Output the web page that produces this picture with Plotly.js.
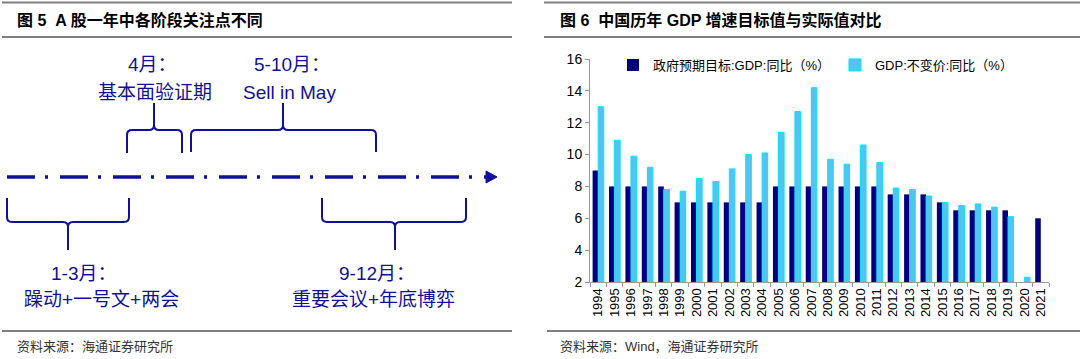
<!DOCTYPE html>
<html>
<head>
<meta charset="utf-8">
<script src="https://cdn.plot.ly/plotly-3.0.1.min.js"></script>
<style>html,body{margin:0;padding:0;background:#fff;}#chart{width:1080px;height:359px;}</style>
</head>
<body>
<div id="chart"></div>
<script>
// ---- data (Figure 6) ----
const years = ['1994','1995','1996','1997','1998','1999','2000','2001','2002','2003','2004','2005','2006','2007','2008','2009','2010','2011','2012','2013','2014','2015','2016','2017','2018','2019','2020','2021'];
const targetGrowth = [9,8,8,8,8,7,7,7,7,7,7,8,8,8,8,8,8,8,7.5,7.5,7.5,7,6.5,6.5,6.5,6.5,null,6];
const actualGrowth = [13.0,10.9,9.9,9.2,7.8,7.7,8.5,8.3,9.1,10.0,10.1,11.4,12.7,14.2,9.7,9.4,10.6,9.5,7.9,7.8,7.4,7.0,6.8,6.9,6.7,6.1,2.3,null];
const seriesNames = ['政府预期目标:GDP:同比（%）','GDP:不变价:同比（%）'];
const yTicks = [2,4,6,8,10,12,14,16];

// ---- texts ----
const title5 = '图 5  A 股一年中各阶段关注点不同';
const title6 = '图 6  中国历年 GDP 增速目标值与实际值对比';
const source5 = '资料来源：海通证券研究所';
const source6 = '资料来源：Wind，海通证券研究所';
const phases = [
  {head:'4月：', body:'基本面验证期'},
  {head:'5-10月：', body:'Sell in May'},
  {head:'1-3月：', body:'躁动+一号文+两会'},
  {head:'9-12月：', body:'重要会议+年底博弈'}
];

const W = 1080, H = 359;
const px = x => x / W;
const py = y => 1 - y / H;
const NAVY = '#10109A';
const CJK = 'Arial, "Liberation Sans", "Noto Sans CJK SC", sans-serif';

function pt(x, y){ return px(x).toFixed(5) + ',' + py(y).toFixed(5); }
// brace: legs at x1,x2 starting at yb, horizontal at yh, tip at (xc, yt)
function brace(x1, x2, xc, yb, yh, yt){
  const r = 5;
  const s = yt < yh ? -1 : 1;
  return 'M' + pt(x1, yb) +
    ' L' + pt(x1, yh - s*r) +
    ' Q' + pt(x1, yh) + ' ' + pt(x1 + r, yh) +
    ' L' + pt(xc - r, yh) +
    ' Q' + pt(xc, yh) + ' ' + pt(xc, yh + s*r) +
    ' L' + pt(xc, yt) +
    ' M' + pt(xc, yh + s*r) +
    ' Q' + pt(xc, yh) + ' ' + pt(xc + r, yh) +
    ' L' + pt(x2 - r, yh) +
    ' Q' + pt(x2, yh) + ' ' + pt(x2, yh - s*r) +
    ' L' + pt(x2, yb);
}

const shapes = [
  {type:'line', xref:'paper', yref:'paper', x0:px(2), x1:px(512), y0:py(2.5), y1:py(2.5), line:{color:'#7f7f7f', width:2}},
  {type:'line', xref:'paper', yref:'paper', x0:px(2), x1:px(512), y0:py(37), y1:py(37), line:{color:'#7f7f7f', width:2}},
  {type:'line', xref:'paper', yref:'paper', x0:px(2), x1:px(512), y0:py(331), y1:py(331), line:{color:'#7f7f7f', width:2}},
  {type:'line', xref:'paper', yref:'paper', x0:px(544), x1:px(1080), y0:py(2.5), y1:py(2.5), line:{color:'#7f7f7f', width:2}},
  {type:'line', xref:'paper', yref:'paper', x0:px(544), x1:px(1080), y0:py(37), y1:py(37), line:{color:'#7f7f7f', width:2}},
  {type:'line', xref:'paper', yref:'paper', x0:px(547), x1:px(1080), y0:py(331), y1:py(331), line:{color:'#7f7f7f', width:2}},
  {type:'line', xref:'paper', yref:'paper', x0:px(7), x1:px(486), y0:py(177), y1:py(177), line:{color:NAVY, width:3.5, dash:'28px,10px,3px,12px'}},
  {type:'path', xref:'paper', yref:'paper', path:'M' + pt(486,171) + ' L' + pt(497,177) + ' L' + pt(486,183) + ' Z', fillcolor:NAVY, line:{color:NAVY, width:1}},
  {type:'path', xref:'paper', yref:'paper', path:brace(127,182,154,153,130,103), line:{color:NAVY, width:2}},
  {type:'path', xref:'paper', yref:'paper', path:brace(191,376,283,152,130,103), line:{color:NAVY, width:2}},
  {type:'path', xref:'paper', yref:'paper', path:brace(7,129,68,198,222,250), line:{color:NAVY, width:2}},
  {type:'path', xref:'paper', yref:'paper', path:brace(322,466,395,198,222,250), line:{color:NAVY, width:2}}
];

function ann(text, x, y, size, opts){
  return Object.assign({xref:'paper', yref:'paper', x:px(x), y:py(y), text:text, showarrow:false,
    xanchor:'center', yanchor:'middle', font:{family:CJK, size:size, color:NAVY}}, opts || {});
}

const annotations = [
  ann('<b>' + title5 + '</b>', 15, 20, 16, {xanchor:'left', font:{family:CJK, size:16, color:'#000'}}),
  ann('<b>' + title6 + '</b>', 558, 20, 16, {xanchor:'left', font:{family:CJK, size:16, color:'#000'}}),
  ann(source5, 15, 346, 13, {xanchor:'left', font:{family:CJK, size:13, color:'#333'}}),
  ann(source6, 558, 346, 13, {xanchor:'left', font:{family:CJK, size:13, color:'#333'}}),
  ann(phases[0].head, 152, 65, 19),
  ann(phases[0].body, 155, 92, 19),
  ann(phases[1].head, 292, 65, 19),
  ann(phases[1].body, 289, 92, 19),
  ann(phases[2].head, 83, 273, 19),
  ann(phases[2].body, 101, 299, 19),
  ann(phases[3].head, 377, 273, 19),
  ann(phases[3].body, 373, 299, 19)
];

const traces = [
  {type:'bar', name:seriesNames[0], x:years, y:targetGrowth, marker:{color:'#000080', line:{width:0}}},
  {type:'bar', name:seriesNames[1], x:years, y:actualGrowth, marker:{color:'#55C3EE', line:{color:'#00E4FF', width:1}}}
];

const layout = {
  width:W, height:H,
  margin:{l:0, r:0, t:0, b:0},
  paper_bgcolor:'#fff', plot_bgcolor:'#fff',
  barmode:'group', bargap:0.32, bargroupgap:0,
  showlegend:true,
  legend:{orientation:'h', x:px(613), y:py(50), xanchor:'left', yanchor:'top',
    font:{family:CJK, size:13, color:'#000'}, bgcolor:'rgba(0,0,0,0)', itemwidth:30, tracegroupgap:0},
  xaxis:{domain:[px(590), px(1049)], type:'category', tickangle:-90,
    tickfont:{family:'Arial, "Liberation Sans", sans-serif', size:13, color:'#000'},
    showline:true, linecolor:'#999', linewidth:1, ticks:'outside', ticklen:4, tickcolor:'#999',
    tickson:'boundaries', showgrid:false, zeroline:false, fixedrange:true},
  yaxis:{domain:[py(282), py(59)], range:[2,16], tickvals:yTicks,
    tickfont:{family:'Arial, "Liberation Sans", sans-serif', size:14, color:'#000'},
    showline:true, linecolor:'#999', linewidth:1, ticks:'outside', ticklen:4, tickcolor:'#999',
    showgrid:false, zeroline:false, fixedrange:true},
  shapes:shapes,
  annotations:annotations
};

Plotly.newPlot('chart', traces, layout, {displayModeBar:false, staticPlot:true});
</script>
</body>
</html>
